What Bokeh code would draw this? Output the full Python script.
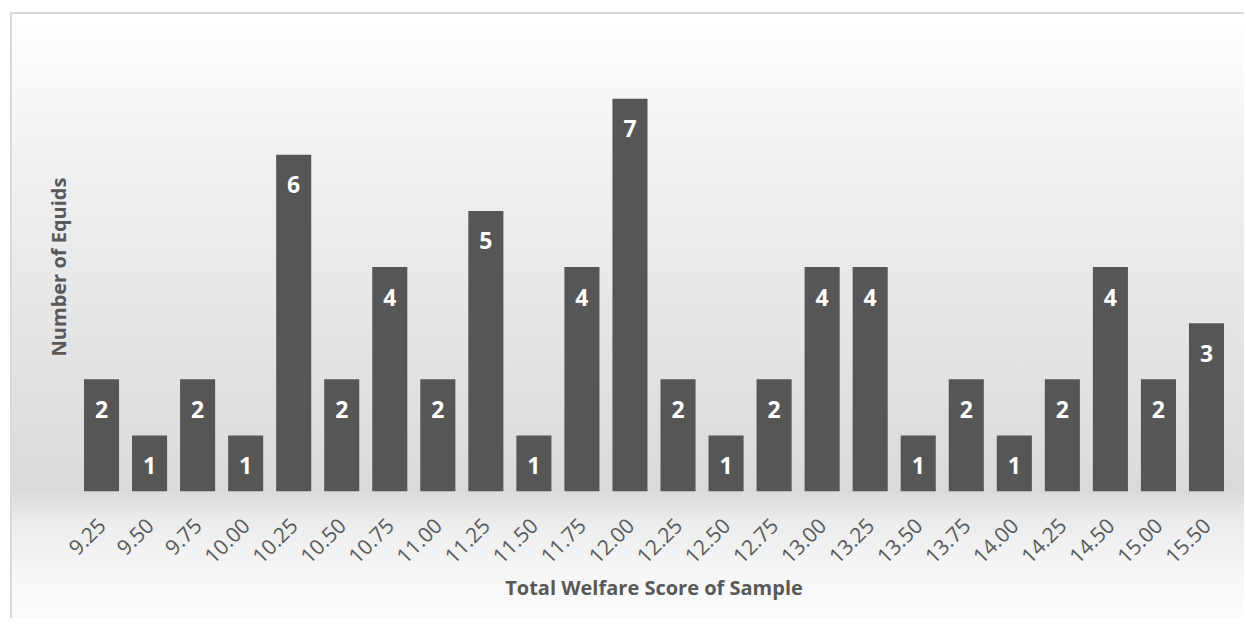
import math
from bokeh.plotting import figure
from bokeh.models import ColumnDataSource, FactorRange, Range1d, FixedTicker
from bokeh.embed import file_html
from bokeh.resources import INLINE
from bokeh.core.properties import value

# ---- data ----
scores = ["9.25", "9.50", "9.75", "10.00", "10.25", "10.50", "10.75", "11.00",
          "11.25", "11.50", "11.75", "12.00", "12.25", "12.50", "12.75", "13.00",
          "13.25", "13.50", "13.75", "14.00", "14.25", "14.50", "15.00", "15.50"]
counts = [2, 1, 2, 1, 6, 2, 4, 2, 5, 1, 4, 7, 2, 1, 2, 4, 4, 1, 2, 1, 2, 4, 2, 3]
x_title = "Total Welfare Score of Sample"
y_title = "Number of Equids"

src = ColumnDataSource(dict(score=scores, count=counts,
                            label=[str(c) for c in counts]))

FONT = "Open Sans"
TXT = "#595959"

p = figure(
    x_range=FactorRange(*scores), y_range=Range1d(0, 8),
    width=1234, height=606,
    output_backend="svg", toolbar_location=None,
    min_border_left=65, min_border_right=16, min_border_top=28, min_border_bottom=129,
    styles={
        "margin-left": "10px", "margin-top": "12px",
        "border-left": "2px solid #d9d9d9", "border-top": "2px solid #d9d9d9",
        "background": "linear-gradient(to bottom, #ffffff 0%, #f1f1f1 25%, #e4e4e4 55%, "
                      "#dadada 78.7%, #ececec 84%, #f7f7f7 93%, #fbfbfb 100%)",
    },
)
p.background_fill_alpha = 0
p.border_fill_alpha = 0
p.outline_line_color = None
p.xgrid.grid_line_color = None
p.ygrid.grid_line_color = None

p.vbar(x="score", top="count", width=0.73, source=src,
       fill_color="#565656", line_color=None)

p.text(x="score", y="count", text="label", source=src, y_offset=30,
       text_align="center", text_baseline="middle", text_color="white",
       text_font=value(FONT), text_font_style="bold", text_font_size="23px")

# x axis
xa = p.xaxis[0]
xa.axis_line_color = None
xa.major_tick_line_color = None
xa.major_tick_out = 0
xa.major_tick_in = 0
xa.major_label_orientation = math.pi / 4
xa.major_label_standoff = 30
xa.major_label_text_font = FONT
xa.major_label_text_font_size = "21px"
xa.major_label_text_color = TXT
xa.axis_label = x_title
xa.axis_label_text_font = FONT
xa.axis_label_text_font_style = "bold"
xa.axis_label_text_font_size = "20px"
xa.axis_label_text_color = TXT
xa.axis_label_standoff = 0

# y axis (title only)
ya = p.yaxis[0]
ya.ticker = FixedTicker(ticks=[])
ya.axis_line_color = None
ya.major_tick_line_color = None
ya.minor_tick_line_color = None
ya.major_tick_out = 0
ya.minor_tick_out = 0
ya.major_label_standoff = 0
ya.axis_label = y_title
ya.axis_label_text_font = FONT
ya.axis_label_text_font_style = "bold"
ya.axis_label_text_font_size = "20px"
ya.axis_label_text_color = TXT
ya.axis_label_standoff = 6

open("out.html", "w").write(file_html(p, INLINE))
